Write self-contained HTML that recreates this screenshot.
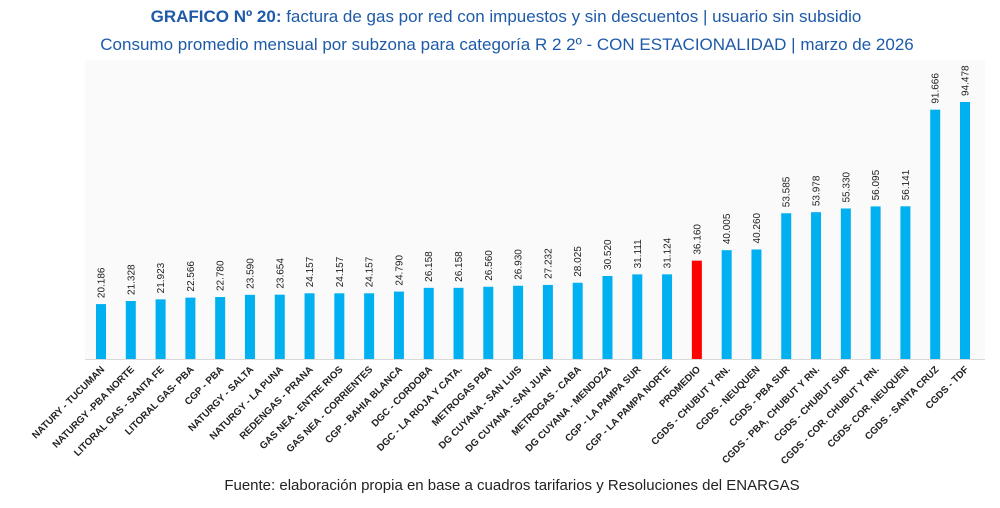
<!DOCTYPE html>
<html><head><meta charset="utf-8"><style>
body{margin:0;background:#fff;width:1000px;height:503px;overflow:hidden;font-family:"Liberation Sans",sans-serif}
</style></head><body>
<svg width="1000" height="503">
<text x="506" y="22" text-anchor="middle" font-size="17" fill="#1e5aa8"><tspan font-weight="bold">GRAFICO Nº 20:</tspan> factura de gas por red con impuestos y sin descuentos | usuario sin subsidio</text>
<text x="507" y="50" text-anchor="middle" font-size="17" fill="#1e5aa8">Consumo promedio mensual por subzona para categoría R 2 2º - CON ESTACIONALIDAD | marzo de 2026</text>
<rect x="85" y="60" width="900" height="300" fill="#fafafa"/>
<line x1="85" y1="359.5" x2="985" y2="359.5" stroke="#d9d9d9"/>
<g id="bars"></g>
<text x="512" y="490" text-anchor="middle" font-size="15" fill="#222">Fuente: elaboración propia en base a cuadros tarifarios y Resoluciones del ENARGAS</text>
</svg>
<script>
const categories=["NATURY - TUCUMAN","NATURGY -PBA NORTE","LITORAL GAS - SANTA FE","LITORAL GAS- PBA","CGP - PBA","NATURGY - SALTA","NATURGY - LA PUNA","REDENGAS - PRANA","GAS NEA - ENTRE RIOS","GAS NEA - CORRIENTES","CGP - BAHIA BLANCA","DGC - CORDOBA","DGC - LA RIOJA Y CATA.","METROGAS PBA","DG CUYANA - SAN LUIS","DG CUYANA - SAN JUAN","METROGAS - CABA","DG CUYANA - MENDOZA","CGP - LA PAMPA SUR","CGP - LA PAMPA NORTE","PROMEDIO","CGDS - CHUBUT Y RN.","CGDS - NEUQUEN","CGDS - PBA SUR","CGDS - PBA, CHUBUT Y RN.","CGDS - CHUBUT SUR","CGDS - COR. CHUBUT Y RN.","CGDS- COR. NEUQUEN","CGDS - SANTA CRUZ","CGDS - TDF"];
const values=[20186,21328,21923,22566,22780,23590,23654,24157,24157,24157,24790,26158,26158,26560,26930,27232,28025,30520,31111,31124,36160,40005,40260,53585,53978,55330,56095,56141,91666,94478];
const valueLabels=["20.186","21.328","21.923","22.566","22.780","23.590","23.654","24.157","24.157","24.157","24.790","26.158","26.158","26.560","26.930","27.232","28.025","30.520","31.111","31.124","36.160","40.005","40.260","53.585","53.978","55.330","56.095","56.141","91.666","94.478"];
const highlight="PROMEDIO";
const NS="http://www.w3.org/2000/svg";
const g=document.getElementById('bars');
const x0=101,x1=965,base=359,scale=2.72/1000;
const xPos=i=>x0+i*(x1-x0)/(categories.length-1);
const yPos=v=>base-v*scale;
categories.forEach((c,i)=>{
 const cx=xPos(i),y=yPos(values[i]);
 const r=document.createElementNS(NS,'rect');
 r.setAttribute('x',cx-5);r.setAttribute('y',y);r.setAttribute('width',10);r.setAttribute('height',base-y);
 r.setAttribute('fill',c===highlight?'#ff0000':'#00b0f0');
 
 
 g.appendChild(r);
 const t=document.createElementNS(NS,'text');
 t.setAttribute('transform',`translate(${cx+3.5},${y-6}) rotate(-90)`);
 t.setAttribute('font-size','10');t.setAttribute('fill','#222');
 t.textContent=valueLabels[i];
 
 
 g.appendChild(t);
 const l=document.createElementNS(NS,'text');
 l.setAttribute('transform',`translate(${cx+4},${370}) rotate(-45)`);
 l.setAttribute('text-anchor','end');l.setAttribute('font-size','9.8');l.setAttribute('font-weight','bold');l.setAttribute('fill','#222');
 l.textContent=c;
 
 
 g.appendChild(l);
});
</script>
</body></html>
